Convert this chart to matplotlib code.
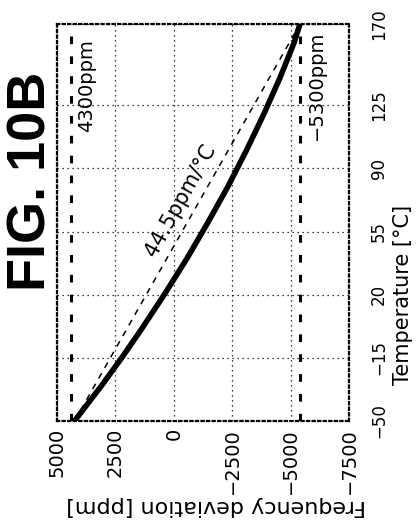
import numpy as np
import matplotlib.pyplot as plt

plt.rcParams['font.family'] = ['DejaVu Sans']

# measured curve (temperature in deg C, frequency deviation in ppm)
temp = [-50, -30, -15, 0, 20, 40, 60, 80, 100, 120, 140, 160, 170]
freq_dev = [4250, 3070, 2230, 1430, 410, -560, -1460, -2320, -3110, -3850, -4540, -5160, -5400]

# straight reference line
lin_temp = [-50, 170]
lin_freq = [4250, -5400]

# limit lines
limits = [4400, -5400]
limit_labels = ['4300ppm', '-5300ppm']

freq_ticks = [5000, 2500, 0, -2500, -5000, -7500]
temp_ticks = [-50, -15, 20, 55, 90, 125, 170]

W, H = 417, 529
fig = plt.figure(figsize=(W / 100, H / 100), dpi=100)
ax = fig.add_axes([57 / W, 1 - 421 / H, (349 - 57) / W, (421 - 24) / H])

# chart is drawn turned by 90 degrees: frequency runs along x, temperature along y
ax.plot(freq_dev, temp, color='black', lw=4, solid_capstyle='butt', zorder=4)
ax.plot(lin_freq, lin_temp, color='black', lw=1.1, dashes=(4, 4), zorder=3)
for f in limits:
    ax.axvline(f, color='black', lw=2.2, dashes=(2.5, 4), zorder=3)

ax.set_xlim(5000, -7500)
ax.set_ylim(-50, 170)
ax.set_xticks(freq_ticks)
ax.set_xticklabels([str(v).replace('-', '\u2212') for v in freq_ticks], rotation=90, fontsize=14)
ax.yaxis.tick_right()
ax.set_yticks(temp_ticks)
ax.set_yticklabels([str(v).replace('-', '\u2212') for v in temp_ticks], rotation=90,
                   fontsize=12, va='center')
ax.tick_params(axis='x', length=0, pad=5)
ax.tick_params(axis='y', length=0, pad=15)

ax.grid(True, color='black', lw=0.9, ls=(0, (1, 3)))
for s in ax.spines.values():
    s.set_linestyle((0, (1, 1.5)))
    s.set_linewidth(1.6)

# annotations
ax.text(0.10, 0.845, limit_labels[0], transform=ax.transAxes, rotation=90,
        ha='center', va='center', fontsize=14)
ax.text(0.89, 0.845, limit_labels[1].replace('-', '\u2212'), transform=ax.transAxes,
        rotation=90, ha='center', va='center', fontsize=14)
ax.text(-307, 72, '44.5ppm/\u00b0C', rotation=61, ha='center', va='center', fontsize=15)

ax.text((403 - 57) / 292, (421 - 295) / 397, 'Temperature [\u00b0C]', transform=ax.transAxes,
        rotation=90, ha='center', va='center', fontsize=15)
ax.text((216 - 57) / 292, (421 - 506) / 397, 'Frequency deviation [ppm]', transform=ax.transAxes,
        rotation=180, ha='center', va='center', fontsize=16)

fig.text(32 / W, 1 - 181 / H, 'FIG. 10B', rotation=90, ha='center', va='center',
         fontsize=39, fontweight='bold', family='Liberation Sans')

fig.savefig('out.png', dpi=100)
